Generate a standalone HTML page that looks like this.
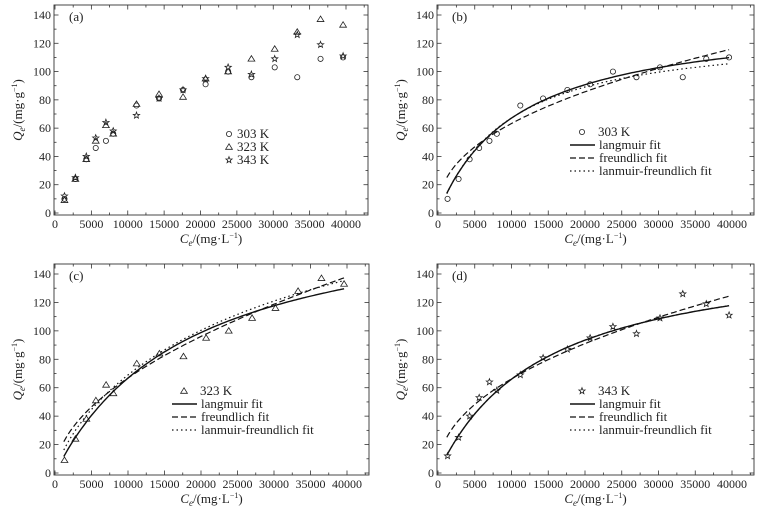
<!DOCTYPE html>
<html><head><meta charset="utf-8"><style>
body{margin:0;background:#fff}
svg{display:block}
text{font-family:"Liberation Serif","Times New Roman",serif}
</style></head><body>
<svg id="c" width="763" height="511" xmlns="http://www.w3.org/2000/svg"></svg>
<script>
const concentrations=[1300,2800,4300,5600,7000,8000,11200,14300,17600,20700,23800,27000,30200,33300,36500,39600];
const q303=[10,24,38,46,51,56,76,81,87,91,100,96,103,96,109,110];
const q323=[9,24,38,51,62,56,77,84,82,95,100,109,116,128,137,133];
const q343=[12,25,40,53,64,58,69,81,87,95,103,98,109,126,119,111];
const xTicks=[0,5000,10000,15000,20000,25000,30000,35000,40000];
const yTicks=[0,20,40,60,80,100,120,140];
// fit parameters [qm,K] langmuir ; [q-at-40000, exponent] freundlich ; [qm,K,n] L-F
const langB=[140,9.2e-5], freB=[116,0.437], lfB=[128,1.1e-4,1.05];
const langC=[190,5.42e-5], freC=[138,0.523], lfC=[260,2.8e-5,0.8];
const langD=[160,7.02e-5], freD=[125,0.458], lfD=[160,7.02e-5,1.0];

const S=document.getElementById('c');const NS='http://www.w3.org/2000/svg';
function el(t,a,p){const e=document.createElementNS(NS,t);for(const k in a)e.setAttribute(k,a[k]);(p||S).appendChild(e);return e;}
function marker(g,type,x,y){
  let e;
  if(type==='circle'){e=el('circle',{cx:x,cy:y,r:2.6,fill:'none',stroke:'#222','stroke-width':0.8},g);}
  else if(type==='tri'){e=el('polygon',{points:`${x},${y-3.2} ${x-3.4},${y+2.3} ${x+3.4},${y+2.3}`,fill:'none',stroke:'#222','stroke-width':0.8},g);}
  else{let p=[];for(let i=0;i<10;i++){const r=i%2?1.4:3.3,a=-Math.PI/2+i*Math.PI/5;p.push((x+r*Math.cos(a)).toFixed(1)+','+(y+r*Math.sin(a)).toFixed(1));}
    e=el('polygon',{points:p.join(' '),fill:'none',stroke:'#222','stroke-width':0.8},g);}
  
  
}
function panel(o){
  const g=el('g',{});
  
  
  const X=v=>o.x0+(v/40000)*(o.x1-o.x0), Y=v=>o.y0-(v/140)*(o.y0-o.y140);
  const bl=o.x0-1,br=o.x1+22,bt=o.y140-10,bb=o.y0+2;
  const box=el('rect',{x:bl,y:bt,width:br-bl,height:bb-bt,fill:'none',stroke:'#333','stroke-width':0.9},g);
  
  for(let v=0;v<=42500;v+=2500){const x=X(v),L=v%5000?2.5:4.5;el('line',{x1:x,y1:bb,x2:x,y2:bb-L,stroke:'#333','stroke-width':0.8},g);el('line',{x1:x,y1:bt,x2:x,y2:bt+L,stroke:'#333','stroke-width':0.8},g);}
  for(let v=0;v<=140;v+=10){const y=Y(v),L=v%20?2.5:4.5;el('line',{x1:bl,y1:y,x2:bl+L,y2:y,stroke:'#333','stroke-width':0.8},g);el('line',{x1:br,y1:y,x2:br-L,y2:y,stroke:'#333','stroke-width':0.8},g);}
  xTicks.forEach(v=>{const t=el('text',{x:X(v),y:bb+13,'text-anchor':'middle','font-size':12,fill:'#222'},g);t.textContent=v;});
  yTicks.forEach(v=>{const t=el('text',{x:bl-3,y:Y(v)+4,'text-anchor':'end','font-size':12,fill:'#222'},g);t.textContent=v;});
  const pl=el('text',{x:bl+15,y:bt+16,'font-size':13,fill:'#222'},g);pl.textContent='('+o.id+')';
  const xl=el('text',{x:(bl+br)/2,y:bb+28,'text-anchor':'middle','font-size':13,fill:'#222'},g);
  xl.innerHTML='<tspan font-style="italic">C</tspan><tspan font-size="9" dy="3" font-style="italic">e</tspan><tspan dy="-3">/(mg·L</tspan><tspan font-size="8" dy="-5">−1</tspan><tspan dy="5">)</tspan>';
  
  const cy=(bt+bb)/2,cx=bl-32;
  const yl=el('text',{x:cx,y:cy,'text-anchor':'middle','font-size':13,fill:'#222',transform:`rotate(-90 ${cx} ${cy})`},g);
  yl.innerHTML='<tspan font-style="italic">Q</tspan><tspan font-size="9" dy="3" font-style="italic">e</tspan><tspan dy="-3">/(mg·g</tspan><tspan font-size="8" dy="-5">−1</tspan><tspan dy="5">)</tspan>';
  
  o.series.forEach(s=>s.vals.forEach((v,i)=>marker(g,s.m,X(concentrations[i]),Y(v))));
  if(o.fits){
    const [l,f,lf]=o.fits;
    const fns=[c=>l[0]*l[1]*c/(1+l[1]*c), c=>f[0]*Math.pow(c/40000,f[1]), c=>{const t=Math.pow(lf[1]*c,lf[2]);return lf[0]*t/(1+t);}];
    const dashes=['none','6 3','1.5 3'];const names=['langmuir-fit-line','freundlich-fit-line','langmuir-freundlich-fit-line'];
    fns.forEach((fn,k)=>{let d='';for(let c=1200;c<=39600;c+=300){d+=(d?'L':'M')+X(c).toFixed(1)+','+Y(fn(c)).toFixed(1);}
      const p=el('path',{d,fill:'none',stroke:'#111','stroke-width':k==0?1.4:1.2,'stroke-dasharray':dashes[k]},g);
      });
    const lx=o.legX,ly=o.legY,labels=[o.series[0].name,'langmuir fit','freundlich fit','lanmuir-freundlich fit'];
    labels.forEach((t,k)=>{const y=ly+k*13;
      if(k==0)marker(g,o.series[0].m,lx+12,y-4);else{const ln=el('line',{x1:lx,y1:y-4,x2:lx+25,y2:y-4,stroke:'#111','stroke-width':k==1?1.4:1.2,'stroke-dasharray':dashes[k-1]},g);}
      const tx=el('text',{x:lx+(k==0?28:29),y:y,'font-size':13,fill:'#222'},g);tx.textContent=t;});
  } else {
    o.series.forEach((s,k)=>{const y=o.legY+k*13;marker(g,s.m,o.legX,y-4);const tx=el('text',{x:o.legX+8,y:y,'font-size':13,fill:'#222'},g);tx.textContent=s.name;});
  }
}
panel({id:'a',x0:55,x1:346,y0:213,y140:15,legX:229,legY:138,series:[{m:'circle',vals:q303,name:'303 K'},{m:'tri',vals:q323,name:'323 K'},{m:'star',vals:q343,name:'343 K'}]});
panel({id:'b',x0:438,x1:732,y0:213,y140:15,legX:570,legY:136,series:[{m:'circle',vals:q303,name:'303 K'}],fits:[langB,freB,lfB]});
panel({id:'c',x0:55,x1:347,y0:473,y140:274,legX:172,legY:395,series:[{m:'tri',vals:q323,name:'323 K'}],fits:[langC,freC,lfC]});
panel({id:'d',x0:438,x1:732,y0:473,y140:274,legX:570,legY:395,series:[{m:'star',vals:q343,name:'343 K'}],fits:[langD,freD,lfD]});
</script>
</body></html>
